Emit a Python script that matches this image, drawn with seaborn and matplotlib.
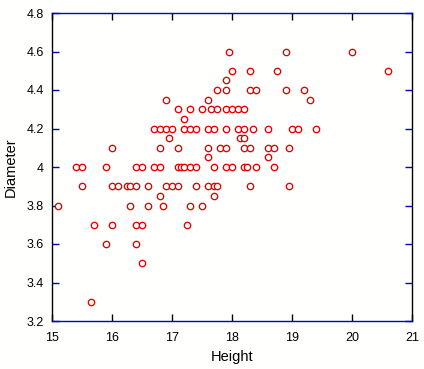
import numpy as np
import pandas as pd
import matplotlib
matplotlib.use('Agg')
import matplotlib.pyplot as plt
import seaborn as sns

# Diameter rows, with the heights of the points on each row
d_460 = [17.95, 18.9, 20.0]
d_450 = [18.0, 18.3, 18.75, 20.6]
d_445 = [17.9]
d_440 = [17.75, 17.9, 18.3, 18.4, 18.9, 19.2]
d_435 = [16.9, 17.6, 19.3]
d_430 = [17.1, 17.3, 17.5, 17.65, 17.75, 17.9, 18.0, 18.1, 18.2]
d_425 = [17.2]
d_420 = [16.7, 16.8, 16.9, 17.0, 17.2, 17.3, 17.4, 17.6, 17.7, 17.9,
         18.1, 18.2, 18.35, 18.6, 19.0, 19.1, 19.4]
d_415 = [16.95, 18.13, 18.2]
d_410 = [16.0, 16.8, 17.1, 17.6, 17.8, 17.9, 18.2, 18.3, 18.6, 18.7, 18.95]
d_405 = [17.6, 18.6]
d_400 = [15.4, 15.5, 15.9, 16.4, 16.5, 16.7, 16.8, 17.1, 17.15, 17.2,
         17.3, 17.4, 17.7, 17.9, 18.0, 18.2, 18.25, 18.4, 18.7]
d_390 = [15.5, 16.0, 16.1, 16.25, 16.3, 16.4, 16.6, 16.9, 17.0, 17.1,
         17.4, 17.6, 17.7, 17.75, 18.3, 18.95]
d_385 = [16.8, 17.7]
d_380 = [15.1, 16.3, 16.6, 16.85, 17.3, 17.5]
d_370 = [15.7, 16.0, 16.4, 16.5, 17.25]
d_360 = [15.9, 16.4]
d_350 = [16.5]
d_330 = [15.65]

rows = {4.6: d_460, 4.5: d_450, 4.45: d_445, 4.4: d_440, 4.35: d_435,
        4.3: d_430, 4.25: d_425, 4.2: d_420, 4.15: d_415, 4.1: d_410,
        4.05: d_405, 4.0: d_400, 3.9: d_390, 3.85: d_385, 3.8: d_380,
        3.7: d_370, 3.6: d_360, 3.5: d_350, 3.3: d_330}

df = pd.DataFrame([(h, d) for d, hs in rows.items() for h in hs],
                  columns=['Height', 'Diameter'])

x_ticks = [15, 16, 17, 18, 19, 20, 21]
y_ticks = [3.2, 3.4, 3.6, 3.8, 4.0, 4.2, 4.4, 4.6, 4.8]
y_labels = ['3.2', '3.4', '3.6', '3.8', '4', '4.2', '4.4', '4.6', '4.8']

plt.rcParams['font.family'] = ['Liberation Sans', 'DejaVu Sans']

fig = plt.figure(figsize=(4.24, 3.69), dpi=100, facecolor='#fffffd')
ax = fig.add_axes([52 / 424, 1 - 321 / 369, 360 / 424, 308 / 369])
ax.set_facecolor('#fffffd')

sns.scatterplot(data=df, x='Height', y='Diameter', ax=ax, marker='o',
                s=21, facecolor='white', edgecolor='#e00000', linewidth=0.95,
                zorder=3)

ax.set_xlim(15, 21)
ax.set_ylim(3.2, 4.8)
ax.set_xticks(x_ticks)
ax.set_yticks(y_ticks)
ax.set_yticklabels(y_labels)

blue = '#0000cc'
ax.spines['left'].set_color('black')
ax.spines['right'].set_color('black')
ax.spines['top'].set_color(blue)
ax.spines['bottom'].set_color(blue)
for s in ax.spines.values():
    s.set_linewidth(1.0)

ax.tick_params(axis='x', direction='in', length=5, width=1, color='black',
               top=True, bottom=True, labelsize=9, pad=8, labelcolor='black')
ax.tick_params(axis='y', direction='in', length=5, width=1, color=blue,
               left=True, right=True, labelsize=9, pad=6, labelcolor='black')

ax.set_xlabel('Height', fontsize=10.5, labelpad=4)
ax.set_ylabel('Diameter', fontsize=10.5, labelpad=6)

fig.savefig('out.png', dpi=100, facecolor=fig.get_facecolor())
